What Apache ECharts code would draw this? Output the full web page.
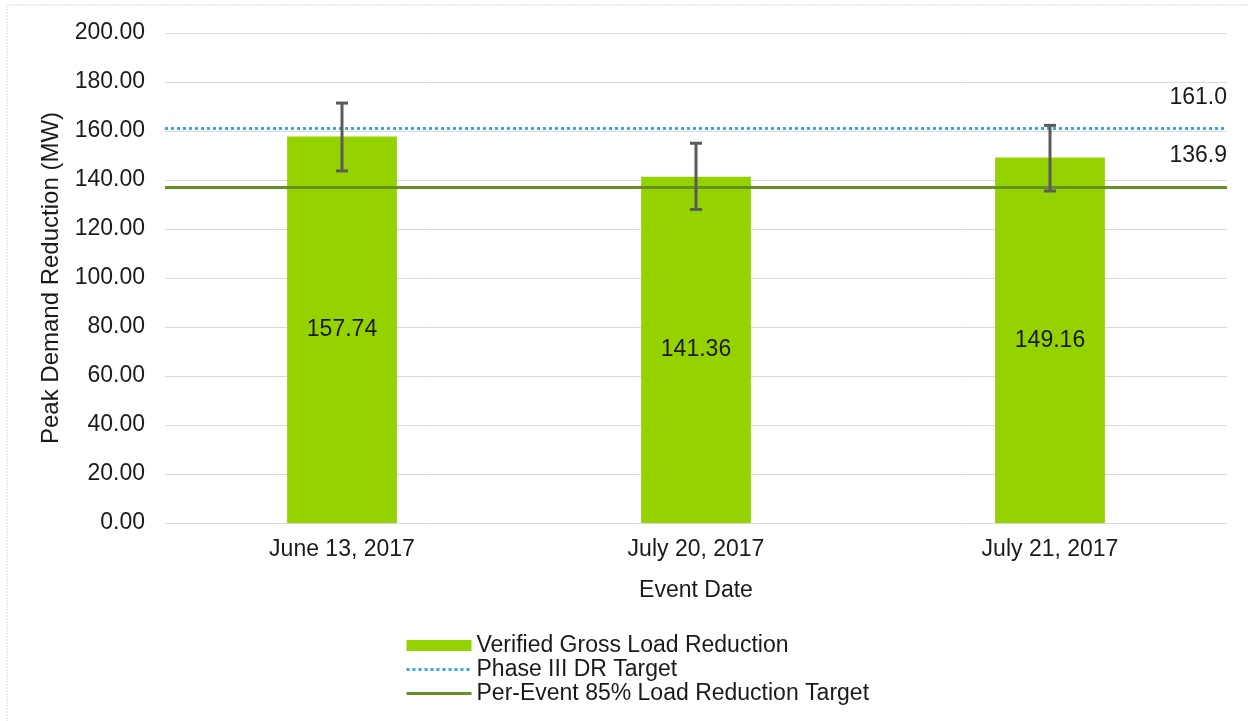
<!DOCTYPE html>
<html>
<head>
<meta charset="utf-8">
<script src="https://cdn.jsdelivr.net/npm/echarts@6/dist/echarts.min.js"></script>
<style>
  html, body { margin: 0; padding: 0; background: #fff; }
  #chart { width: 1249px; height: 721px; }
</style>
</head>
<body>
<div id="chart"></div>
<script>
// values
var eventDates = ['June 13, 2017', 'July 20, 2017', 'July 21, 2017'];
var grossReduction = [157.74, 141.36, 149.16];
var errorLow = [143.7, 128.0, 135.5];
var errorHigh = [171.4, 155.0, 162.3];
var phaseTarget = [161.0];
var perEventTarget = [136.9];
var yTicks = [0, 200, 20];

var font = 'Liberation Sans, Arial, sans-serif';
var textColor = '#1a1a1a';
var blue = '#3aa8dc';
var olive = '#668f24';

var errorData = eventDates.map(function (d, i) {
    return [i, errorLow[i], errorHigh[i]];
});

var chart = echarts.init(document.getElementById('chart'));

var option = {
    animation: false,
    textStyle: { fontFamily: font, color: textColor },

    // chart area border (only top and left edges are inside the picture)
    graphic: [{
        type: 'rect',
        shape: { x: 7, y: 5, width: 1300, height: 800 },
        style: { fill: 'none', stroke: '#dcdcdc', lineWidth: 1, lineDash: [2, 1] },
        silent: true
    }],

    grid: { left: 165, right: 22, top: 33, bottom: 198 },

    legend: {
        orient: 'vertical',
        left: 400,
        top: 629,
        itemWidth: 65,
        itemHeight: 11,
        itemGap: 1,
        textStyle: { fontSize: 23, color: textColor, fontFamily: font, lineHeight: 22 },
        data: [
            { name: 'Verified Gross Load Reduction', icon: 'rect' },
            {
                name: 'Phase III DR Target',
                itemStyle: { opacity: 0 },
                lineStyle: { color: blue, width: 3, type: [3, 3] }
            },
            {
                name: 'Per-Event 85% Load Reduction Target',
                itemStyle: { opacity: 0 },
                lineStyle: { color: olive, width: 3, type: 'solid' }
            }
        ]
    },

    xAxis: {
        type: 'category',
        data: eventDates,
        name: 'Event Date',
        nameLocation: 'middle',
        nameGap: 56,
        nameTextStyle: { fontSize: 23, color: textColor },
        axisLine: { show: false },
        axisTick: { show: false },
        axisLabel: { fontSize: 23, color: textColor, margin: 15 }
    },

    yAxis: {
        type: 'value',
        min: yTicks[0],
        max: yTicks[1],
        interval: yTicks[2],
        name: 'Peak Demand Reduction (MW)',
        nameLocation: 'middle',
        nameGap: 98,
        nameTextStyle: { fontSize: 24, color: textColor },
        axisLabel: {
            fontSize: 23,
            color: textColor,
            margin: 20,
            formatter: function (v) { return v.toFixed(2); }
        },
        splitLine: { lineStyle: { color: '#d9d9d9', width: 1 } }
    },

    series: [
        {
            name: 'Verified Gross Load Reduction',
            type: 'bar',
            data: grossReduction,
            barWidth: '31%',
            itemStyle: { color: '#95d300' },
            label: {
                show: true,
                position: 'inside',
                fontSize: 23,
                color: textColor,
                fontFamily: font,
                formatter: function (p) { return p.value.toFixed(2); }
            },
            z: 2
        },
        {
            name: 'Phase III DR Target',
            type: 'line',
            data: [],
            symbol: 'none',
            lineStyle: { color: blue, width: 3, type: [3, 3] },
            itemStyle: { color: blue },
            markLine: {
                silent: true,
                symbol: 'none',
                lineStyle: { color: blue, width: 3, type: [3, 3] },
                label: {
                    position: 'insideEndTop',
                    distance: [0, 19],
                    fontSize: 23,
                    color: textColor,
                    fontFamily: font,
                    formatter: function (p) { return p.value.toFixed(1); }
                },
                data: [{ yAxis: phaseTarget[0] }]
            },
            z: 3
        },
        {
            name: 'Per-Event 85% Load Reduction Target',
            type: 'line',
            data: [],
            symbol: 'none',
            lineStyle: { color: olive, width: 3, type: 'solid' },
            itemStyle: { color: olive },
            markLine: {
                silent: true,
                symbol: 'none',
                lineStyle: { color: olive, width: 3, type: 'solid' },
                label: {
                    position: 'insideEndTop',
                    distance: [0, 20],
                    fontSize: 23,
                    color: textColor,
                    fontFamily: font,
                    formatter: function (p) { return p.value.toFixed(1); }
                },
                data: [{ yAxis: perEventTarget[0] }]
            },
            z: 3
        },
        {
            name: 'Error',
            type: 'custom',
            data: errorData,
            z: 5,
            renderItem: function (params, api) {
                var lo = api.coord([api.value(0), api.value(1)]);
                var hi = api.coord([api.value(0), api.value(2)]);
                var cap = 6;
                var style = { stroke: '#5a5a5a', lineWidth: 3 };
                return {
                    type: 'group',
                    children: [
                        { type: 'line', shape: { x1: hi[0], y1: hi[1], x2: lo[0], y2: lo[1] }, style: style },
                        { type: 'line', shape: { x1: hi[0] - cap, y1: hi[1], x2: hi[0] + cap, y2: hi[1] }, style: style },
                        { type: 'line', shape: { x1: lo[0] - cap, y1: lo[1], x2: lo[0] + cap, y2: lo[1] }, style: style }
                    ]
                };
            }
        }
    ]
};

chart.setOption(option);
</script>
</body>
</html>
